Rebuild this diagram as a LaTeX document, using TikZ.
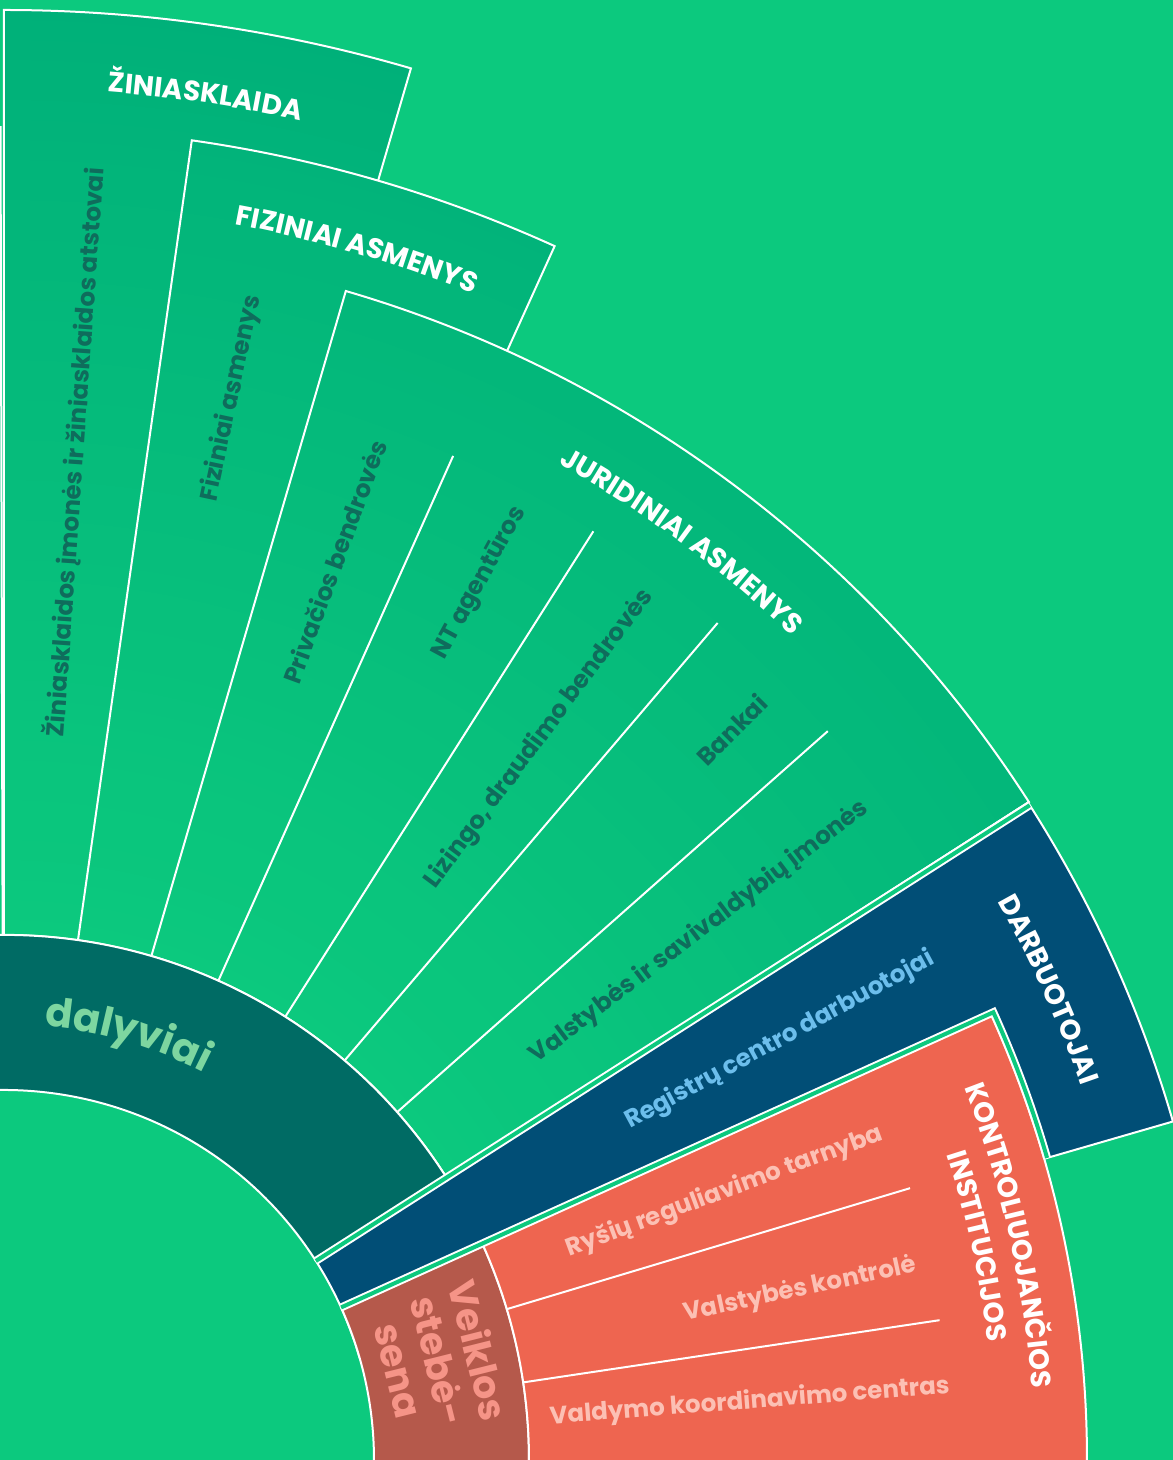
\documentclass[tikz,border=0pt]{standalone}
\usepackage{fontspec}
\setmainfont{Poppins}
\usepackage{xcolor}
\usetikzlibrary{decorations.text}

\definecolor{fieldgreen}{RGB}{12,201,126}
\definecolor{fielddeep}{RGB}{0,176,121}
\definecolor{ringteal}{RGB}{0,107,100}
\definecolor{ringtext}{RGB}{125,214,160}
\definecolor{itemteal}{RGB}{15,108,92}
\definecolor{staffblue}{RGB}{1,78,118}
\definecolor{stafftext}{RGB}{108,190,236}
\definecolor{ctrlorange}{RGB}{238,101,80}
\definecolor{ctrltext}{RGB}{252,192,180}
\definecolor{watchred}{RGB}{181,89,75}
\definecolor{watchtext}{RGB}{245,148,135}

\newcommand{\band}[4]{(#1:#3pt) arc[start angle=#1, end angle=#2, radius=#3pt] -- (#2:#4pt) arc[start angle=#2, end angle=#1, radius=#4pt] -- cycle}
% field sector, darker towards its outer rim
\newcommand{\fieldband}[4]{\begin{scope}\clip \band{#1}{#2}{#3}{#4};
  \foreach \rr in {1460,1440,...,540}{\pgfmathtruncatemacro\pp{(\rr-525)/9.35}\fill[fielddeep!\pp!fieldgreen] (0,0) circle[radius=\rr pt];}
  \end{scope}
  \draw[draw=white, line width=2pt] \band{#1}{#2}{#3}{#4};}
\newcommand{\titlefont}{\bfseries\fontsize{28}{32}\selectfont}
\newcommand{\arctitle}[4]{\path[decorate, decoration={text along path, text align=center, text color=white, text={|\titlefont|#4}}] (#1:#3pt) arc[start angle=#1, end angle=#2, radius=#3pt];}

\tikzset{
  divider/.style={draw=white, line width=2pt},
  gapline/.style={draw=white, line width=2pt, double=fieldgreen, double distance=4pt},
  item/.style={font=\bfseries\fontsize{24.5}{28}\selectfont, inner sep=0pt}
}

\begin{document}
\begin{tikzpicture}
\fill[fieldgreen] (-4pt,0pt) rectangle (1169pt,1460pt);
\useasboundingbox (-4pt,0pt) rectangle (1169pt,1460pt);

% participant fields
\fieldband{90.15}{130}{525}{1333}
\fieldband{73.7}{90}{525}{1450}
\fieldband{65.6}{81.9}{525}{1333}
\fieldband{32.7}{73.7}{525}{1218}
\foreach \a in {65.9,57.6,49.55,41.5}
  \draw[divider] (\a:525pt) -- (\a:1100pt);

% inner ring
\draw[draw=white, line width=2pt, fill=ringteal] \band{32.7}{150}{370}{525};

% staff and control blocks
\draw[draw=white, line width=2pt, fill=staffblue] \band{16.15}{32.7}{370}{1217};
\draw[draw=white, line width=2pt, fill=watchred] \band{-5}{24.35}{370}{525};
\draw[draw=white, line width=2pt, fill=ctrlorange] \band{-5}{24.35}{525}{1083};
\foreach \a in {16.7,8.5}
  \draw[divider] (\a:525pt) -- (\a:946pt);
\draw[gapline] (32.55:370pt) -- (32.55:1217pt);
\draw[gapline] (24.35:370pt) -- (24.35:1086pt) arc[start angle=24.35, end angle=16.15, radius=1086pt];

% group titles
\arctitle{89.5}{73.7}{1372}{ŽINIASKLAIDA}
\arctitle{81.9}{65.6}{1257}{FIZINIAI ASMENYS}
\arctitle{74.2}{33}{1140}{JURIDINIAI ASMENYS}
\arctitle{32.5}{16}{1140}{DARBUOTOJAI}
\arctitle{25.2}{0}{1030}{KONTROLIUOJANČIOS}
\arctitle{24.8}{0}{991}{INSTITUCIJOS}
\path[decorate, decoration={text along path, text align=center, text color=ringtext, text={|\bfseries\fontsize{40}{46}\selectfont|dalyviai}}] (95:436pt) arc[start angle=95, end angle=52.4, radius=436pt];

% items
\node[item, text=itemteal, rotate=85.97] (media) at (85.97:1010pt) {Žiniasklaidos įmonės ir žiniasklaidos atstovai};
\node[item, text=itemteal, rotate=77.9] (persons) at (77.9:1086pt) {Fiziniai asmenys};
\node[item, text=itemteal, rotate=69.8] (private) at (69.8:957pt) {Privačios bendrovės};
\node[item, text=itemteal, rotate=61.5] (realty) at (61.5:998pt) {NT agentūros};
\node[item, text=itemteal, rotate=53.4] (leasing) at (53.4:898pt) {Lizingo, draudimo bendrovės};
\node[item, text=itemteal, rotate=45.1] (banks) at (45.1:1031pt) {Bankai};
\node[item, text=itemteal, rotate=37.2] (stateco) at (37.2:873pt) {Valstybės ir savivaldybių įmonės};
\node[item, text=stafftext, rotate=28.4] (staff) at (28.4:882pt) {Registrų centro darbuotojai};
\node[item, text=ctrltext, rotate=20.4] (comms) at (20.4:769pt) {Ryšių reguliavimo tarnyba};
\node[item, text=ctrltext, rotate=12.05] (audit) at (12.05:814pt) {Valstybės kontrolė};
\node[item, text=ctrltext, rotate=4.45] (coord) at (4.45:748pt) {Valdymo koordinavimo centras};
\node[align=center, text=watchtext, font=\bfseries\fontsize{38}{41}\selectfont, rotate=-76] (watch) at (12.9:447pt) {Veiklos\\stebė-\\sena};
\end{tikzpicture}
\end{document}
